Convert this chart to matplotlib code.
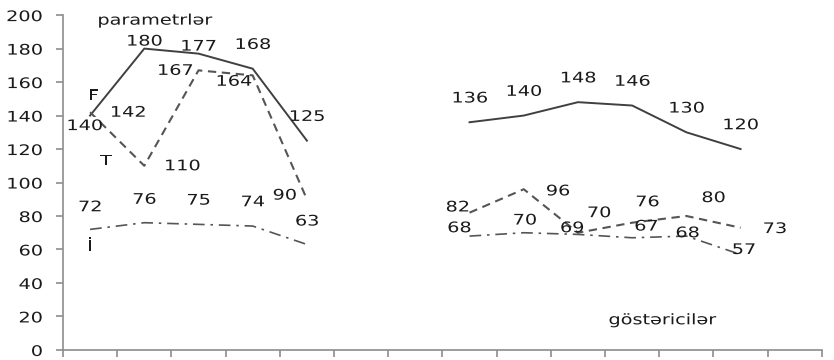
import matplotlib.pyplot as plt
import numpy as np
from matplotlib.patheffects import AbstractPathEffect
from matplotlib.transforms import Affine2D

plt.rcParams['font.family'] = ['DejaVu Sans']

# 14 category slots on the x axis; the two groups sit in slots 0-4 and 7-12
n_slots = 14
left_x = [0, 1, 2, 3, 4]
right_x = [7, 8, 9, 10, 11, 12]

# parametrlər
F_left = [140, 180, 177, 168, 125]
T_left = [142, 110, 167, 164, 90]
I_left = [72, 76, 75, 74, 63]

# göstəricilər
F_right = [136, 140, 148, 146, 130, 120]
T_right = [82, 96, 70, 76, 80, 73]
I_right = [68, 70, 69, 67, 68, 57]

# label offsets (dx in slots, dy in value units)
F_left_off = [(-0.1, -6), (0, 4.5), (0, 4.5), (0, 14.5), (0, 14.5)]
T_left_off = [(0.7, 0), (0.7, 0), (-0.43, 0), (-0.35, -3.5), (-0.41, 2.5)]
I_left_off = [(0, 13.5), (0, 14), (0, 14.5), (0, 14.5), (0, 14)]
F_right_off = [(0, 14.5)] * 6
T_right_off = [(-0.22, 3.4), (0.63, -1), (0.39, 12), (0.28, 12.5), (0.5, 11), (0.63, -0.5)]
I_right_off = [(-0.19, 5), (0.02, 7.6), (-0.11, 4), (0.26, 7), (0.02, 2), (0.06, 3)]

line_col = '#404040'
txt_col = '#1a1a1a'
axis_col = '#8c8c8c'
fs = 10.5


class StretchX(AbstractPathEffect):
    """Widen glyphs horizontally, keeping the given anchor fixed."""

    def __init__(self, sx, anchor='center'):
        super().__init__()
        self.sx = sx
        self.anchor = anchor

    def draw_path(self, renderer, gc, tpath, affine, rgbFace=None):
        xs = tpath.vertices[:, 0]
        if len(xs) == 0:
            return
        cx = xs.max() if self.anchor == 'right' else (xs.min() + xs.max()) / 2
        t = Affine2D().translate(-cx, 0).scale(self.sx, 1).translate(cx, 0) + affine
        renderer.draw_path(gc, tpath, t, rgbFace)


wide = [StretchX(1.32)]
wide_right = [StretchX(1.32, anchor='right')]

fig = plt.figure(figsize=(8.34, 3.6), dpi=100)
ax = fig.add_axes([0.0755, 0.028, 0.910, 0.930])

styles = {
    'F': dict(color=line_col, linewidth=1.4, linestyle='-'),
    'T': dict(color='#555555', linewidth=1.5, linestyle=(0, (4, 2.7))),
    'I': dict(color='#555555', linewidth=1.2, linestyle=(0, (7, 3.5, 1.5, 3.5))),
}

groups = [
    (left_x, F_left, F_left_off, 'F'),
    (left_x, T_left, T_left_off, 'T'),
    (left_x, I_left, I_left_off, 'I'),
    (right_x, F_right, F_right_off, 'F'),
    (right_x, T_right, T_right_off, 'T'),
    (right_x, I_right, I_right_off, 'I'),
]

for xs, ys, offs, key in groups:
    ax.plot(xs, ys, **styles[key])
    for x, y, (dx, dy) in zip(xs, ys, offs):
        t = ax.text(x + dx, y + dy, str(y), ha='center', va='center',
                    fontsize=fs, color=txt_col, path_effects=wide, zorder=4)
        if (xs, ys) == (left_x, F_left) and x == 0:
            # first label sits on a white box over the dashed line start
            t.set_bbox(dict(facecolor='white', edgecolor='none', pad=0.5))

# series names and group captions
captions = [(0.06, 152, 'F'), (0.3, 113, 'T'), (0.0, 62, 'İ'),
            (1.2, 197, 'parametrlər'), (10.56, 18, 'göstəricilər')]
for x, y, s in captions:
    ax.text(x, y, s, ha='center', va='center', fontsize=fs, color=txt_col,
            path_effects=wide)

ax.set_xlim(-0.5, n_slots - 0.5)
ax.set_ylim(0, 200)
ax.set_yticks(np.arange(0, 201, 20))
ax.set_xticks(np.arange(-0.5, n_slots, 1.0))
ax.set_xticklabels([])

for side in ['top', 'right']:
    ax.spines[side].set_visible(False)
for side in ['left', 'bottom']:
    ax.spines[side].set_color(axis_col)
    ax.spines[side].set_linewidth(1.2)
ax.tick_params(axis='both', colors=axis_col, length=5, width=1.2)
ax.tick_params(axis='y', labelcolor=txt_col, labelsize=fs, pad=9.5)
for lab in ax.get_yticklabels():
    lab.set_path_effects(wide_right)

fig.savefig('out.png', dpi=100, facecolor='white')
